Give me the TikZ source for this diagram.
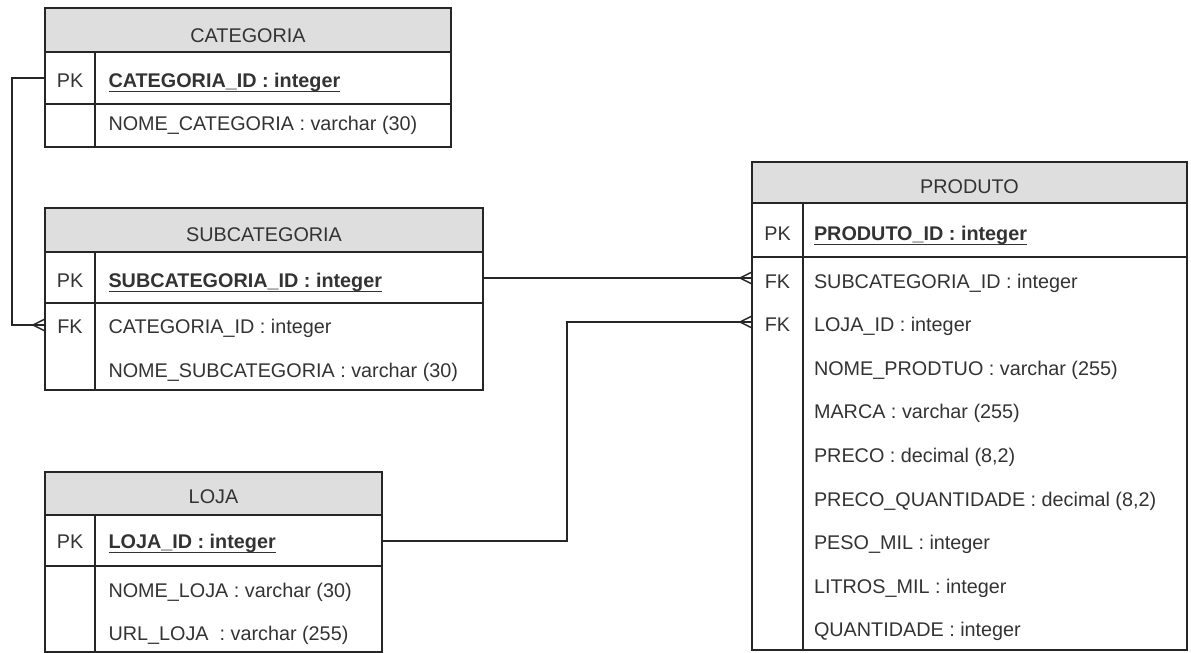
\documentclass[tikz,border=0pt]{standalone}
\usepackage{fontspec}
\setmainfont{Liberation Sans}
\definecolor{edge}{HTML}{262626}
\definecolor{hdrfill}{HTML}{DEDEDE}
\definecolor{ink}{HTML}{333333}
\begin{document}
\begin{tikzpicture}[x=1pt,y=-1pt,
  every node/.style={inner sep=0pt,outer sep=0pt},
  frame/.style={draw=edge,line width=1.4pt,rectangle,anchor=north west},
  header/.style={frame,fill=hdrfill},
  rule/.style={draw=edge,line width=1.4pt},
  link/.style={draw=edge,line width=1.4pt},
  uline/.style={draw=ink,line width=1.2pt},
  txt/.style={text=ink,font=\fontsize{19.8}{23}\selectfont},
  title/.style={txt,anchor=base},
  keylab/.style={txt,anchor=base},
  field/.style={txt,anchor=base west},
  pkfield/.style={txt,anchor=base west,font=\fontsize{19.8}{23}\selectfont\bfseries},
  pics/crowfoot/.style={code={\draw[link] (-12,0) -- (0,-6) (-12,0) -- (0,6);}}]
\useasboundingbox (0,0) rectangle (1191,653);

% ---------- CATEGORIA ----------
\node[frame,minimum width=406pt,minimum height=139pt] (cat) at (45,8) {};
\node[header,minimum width=406pt,minimum height=44pt] (cath) at (45,8) {};
\draw[rule] (45,104) -- (451,104);
\draw[rule] (95,52) -- (95,147);
\node[title] (catt) at (248,42) {CATEGORIA};
\node[keylab] (catk1) at (70,87) {PK};
\node[pkfield] (catf1) at (108.5,87) {CATEGORIA\_ID : integer};
\draw[uline] ([yshift=-4.5pt]catf1.base west) -- ([yshift=-4.5pt]catf1.base east);
\node[field] (catf2) at (108.5,130) {NOME\_CATEGORIA : varchar (30)};
\coordinate (catpk) at (45,78);

% ---------- SUBCATEGORIA ----------
\node[frame,minimum width=438pt,minimum height=182pt] (sub) at (45,208) {};
\node[header,minimum width=438pt,minimum height=44pt] (subh) at (45,208) {};
\draw[rule] (45,303) -- (483,303);
\draw[rule] (95,252) -- (95,390);
\node[title] (subt) at (264,241) {SUBCATEGORIA};
\node[keylab] (subk1) at (70,287) {PK};
\node[pkfield] (subf1) at (108.5,287) {SUBCATEGORIA\_ID : integer};
\draw[uline] ([yshift=-4.5pt]subf1.base west) -- ([yshift=-4.5pt]subf1.base east);
\node[keylab] (subk2) at (70,333) {FK};
\node[field] (subf2) at (108.5,333) {CATEGORIA\_ID : integer};
\node[field] (subf3) at (108.5,377) {NOME\_SUBCATEGORIA : varchar (30)};
\coordinate (subpk) at (483,278);
\coordinate (subfk) at (45,325);

% ---------- LOJA ----------
\node[frame,minimum width=337pt,minimum height=180pt] (loja) at (45,472) {};
\node[header,minimum width=337pt,minimum height=43pt] (lojah) at (45,472) {};
\draw[rule] (45,566) -- (382,566);
\draw[rule] (95,515) -- (95,652);
\node[title] (lojat) at (213.5,503) {LOJA};
\node[keylab] (lojak1) at (70,548) {PK};
\node[pkfield] (lojaf1) at (108.5,548) {LOJA\_ID : integer};
\draw[uline] ([yshift=-4.5pt]lojaf1.base west) -- ([yshift=-4.5pt]lojaf1.base east);
\node[field] (lojaf2) at (108.5,597) {NOME\_LOJA : varchar (30)};
\node[field] (lojaf3) at (108.5,640) {URL\_LOJA~ : varchar (255)};
\coordinate (lojapk) at (382,541);
\coordinate (lojabend) at (567,541);

% ---------- PRODUTO ----------
\node[frame,minimum width=435pt,minimum height=488pt] (prod) at (752,162) {};
\node[header,minimum width=435pt,minimum height=41pt] (prodh) at (752,162) {};
\draw[rule] (752,257) -- (1187,257);
\draw[rule] (803,203) -- (803,650);
\node[title] (prodt) at (969.5,193) {PRODUTO};
\node[keylab] (prodk1) at (777.5,240) {PK};
\node[pkfield] (prodf1) at (814,240) {PRODUTO\_ID : integer};
\draw[uline] ([yshift=-4.5pt]prodf1.base west) -- ([yshift=-4.5pt]prodf1.base east);
\node[keylab] (prodk2) at (777.5,288) {FK};
\node[field] (prodf2) at (814,288) {SUBCATEGORIA\_ID : integer};
\node[keylab] (prodk3) at (777.5,331.6) {FK};
\node[field] (prodf3) at (814,331.6) {LOJA\_ID : integer};
\node[field] (prodf4) at (814,375.2) {NOME\_PRODTUO : varchar (255)};
\node[field] (prodf5) at (814,418.8) {MARCA : varchar (255)};
\node[field] (prodf6) at (814,462.4) {PRECO : decimal (8,2)};
\node[field] (prodf7) at (814,506) {PRECO\_QUANTIDADE : decimal (8,2)};
\node[field] (prodf8) at (814,549.6) {PESO\_MIL : integer};
\node[field] (prodf9) at (814,593.2) {LITROS\_MIL : integer};
\node[field] (prodf10) at (814,636.8) {QUANTIDADE : integer};
\coordinate (prodfk1) at (752,278);
\coordinate (prodfk2) at (752,322);

% ---------- relationships ----------
\draw[link] (catpk) -- (12,78) -- (12,325) -- (subfk);
\pic at (subfk) {crowfoot};
\draw[link] (subpk) -- (prodfk1);
\pic at (prodfk1) {crowfoot};
\draw[link] (lojapk) -- (lojabend) |- (prodfk2);
\pic at (prodfk2) {crowfoot};
\end{tikzpicture}
\end{document}
